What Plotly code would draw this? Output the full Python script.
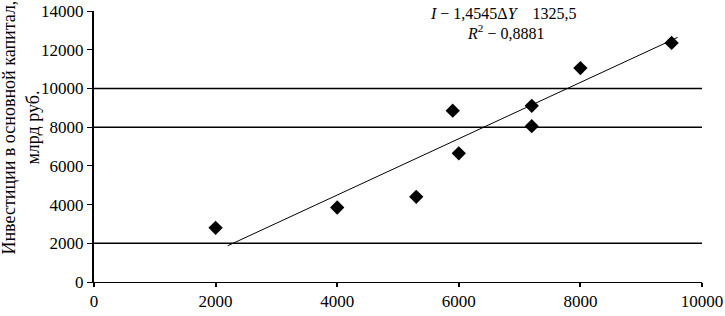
import plotly.graph_objects as go

# Data
dY = [2000, 4000, 5300, 5900, 6000, 7200, 7200, 8000, 9500]
invest = [2800, 3850, 4400, 8850, 6650, 9100, 8050, 11050, 12350]

slope = 1.4545
intercept = -1325.5
trend_x = [2200, 9600]
trend_y = [slope * x + intercept for x in trend_x]

grid_values = [2000, 8000, 10000]
x_ticks = [0, 2000, 4000, 6000, 8000, 10000]
x_labels = ["0", "2000", "4000", "6000", "8000", "10000"]
y_ticks = [0, 2000, 4000, 6000, 8000, 10000, 12000, 14000]
y_labels = ["0", "2000", "4000", "6000", "8000", "10000", "12000", "14000"]

FONT = "Liberation Serif, Times New Roman, serif"
TICKFONT = dict(family=FONT, size=17, color="black")

fig = go.Figure()
fig.add_trace(go.Scatter(x=trend_x, y=trend_y, mode="lines",
                         line=dict(color="black", width=1), hoverinfo="skip"))
fig.add_trace(go.Scatter(x=dY, y=invest, mode="markers",
                         marker=dict(symbol="diamond", size=11, color="black")))

for g in grid_values:
    fig.add_shape(type="line", xref="x", yref="y", x0=0, x1=10000, y0=g, y1=g,
                  line=dict(color="black", width=1.5), layer="below")

fig.add_annotation(xref="x", yref="y", x=6730, y=13850, showarrow=False,
                   text="<i>I</i> − 1,4545Δ<i>Y</i>    1325,5",
                   font=dict(family=FONT, size=16, color="black"))
fig.add_annotation(xref="x", yref="y", x=6760, y=12900, showarrow=False,
                   text="<i>R</i><sup>2</sup> − 0,8881",
                   font=dict(family=FONT, size=16, color="black"))

fig.add_annotation(xref="paper", yref="paper", x=0, y=0.57, xshift=-73,
                   xanchor="center", yanchor="middle", showarrow=False,
                   textangle=-90,
                   text="Инвестиции в основной капитал,<br>млрд руб.",
                   font=dict(family=FONT, size=18, color="black"))

fig.update_layout(
    width=725, height=316,
    margin=dict(l=94, r=18, t=2, b=34),
    paper_bgcolor="white", plot_bgcolor="white",
    showlegend=False,
    font=dict(family=FONT, size=17, color="black"),
)
fig.update_xaxes(range=[0, 10000], tickvals=x_ticks, ticktext=x_labels,
                 showgrid=False, zeroline=False,
                 showline=True, linecolor="black", linewidth=1,
                 ticks="outside", ticklen=4, tickcolor="black", tickwidth=2,
                 ticklabeloverflow="allow", tickfont=TICKFONT)
fig.update_yaxes(range=[0, 14000], tickvals=y_ticks, ticktext=y_labels,
                 showgrid=False, zeroline=False,
                 showline=True, linecolor="black", linewidth=2,
                 ticks="outside", ticklen=5, tickcolor="black",
                 ticklabeloverflow="allow", tickfont=TICKFONT)

fig.write_html("out.html", config={"displayModeBar": False},
               post_script="document.body.style.margin='0';")
